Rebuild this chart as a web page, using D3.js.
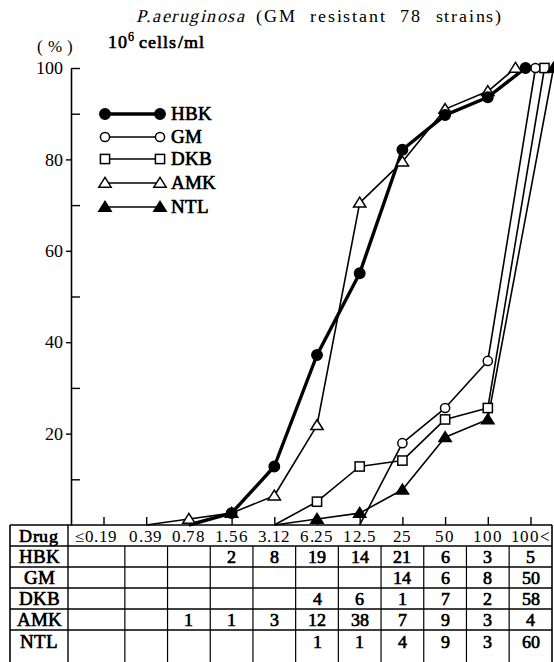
<!DOCTYPE html>
<html><head><meta charset="utf-8">
<script src="https://cdn.jsdelivr.net/npm/d3@7"></script>
<style>
@font-face { font-family: "ScanSerif"; src: local("Liberation Serif"), local("LiberationSerif"), local("Liberation Serif Regular"); }
body{margin:0;background:#fff} svg{display:block}
</style>
</head><body>
<svg id="c" width="554" height="662"></svg>
<script>
// ---------- data ----------
const categories = ["≤0.19","0.39","0.78","1.56","3.12","6.25","12.5","25","50","100","100<"];
const seriesNames = ["HBK","GM","DKB","AMK","NTL"];
// cumulative % of strains inhibited (null = not plotted)
const hbkValues = [null,null,0,2.6,12.8,37.2,55.1,82.1,89.7,93.6,100];
const gmValues  = [null,null,null,null,null,null,0,17.9,25.6,35.9,100];
const dkbValues = [null,null,null,null,0,5.1,12.8,14.1,23.1,25.6,100];
const amkValues = [null,0,1.3,2.6,6.4,21.8,70.5,79.5,91.0,94.9,100];
const ntlValues = [null,null,null,null,0,1.3,2.6,7.7,19.2,23.1,100];
// table counts
const hbkCounts = ["","","","2","8","19","14","21","6","3","5"];
const gmCounts  = ["","","","","","","","14","6","8","50"];
const dkbCounts = ["","","","","","4","6","1","7","2","58"];
const amkCounts = ["","","1","1","3","12","38","7","9","3","4"];
const ntlCounts = ["","","","","","1","1","4","9","3","60"];
const yMajorTicks = [20,40,60,80,100];
const yMinorTicks = [10,30,50,70,90];
const titleItalic = "P.aeruginosa";
const titleRest = "(GM resistant 78 strains)";

// ---------- styles ----------
const values = {HBK:hbkValues, GM:gmValues, DKB:dkbValues, AMK:amkValues, NTL:ntlValues};
const counts = {HBK:hbkCounts, GM:gmCounts, DKB:dkbCounts, AMK:amkCounts, NTL:ntlCounts};
const style = {
  HBK:{shape:"circle", fill:"#000", lw:3.4, lastDx:-5},
  GM: {shape:"circle", fill:"#fff", lw:1.6, lastDx:5},
  DKB:{shape:"square", fill:"#fff", lw:1.6, lastDx:14},
  AMK:{shape:"triangle", fill:"#fff", lw:1.6, lastDx:-15},
  NTL:{shape:"triangle", fill:"#000", lw:1.6, lastDx:23}
};
const SERIF = '"ScanSerif", "Liberation Serif"';

const svg = d3.select("#c");
const axX = 71, yTop = 68, yBot = 525;
const x = d3.scalePoint().domain(categories).range([103.5, 530.5]);
const y = d3.scaleLinear().domain([0,100]).range([yBot, yTop]);

// ---------- titles ----------
svg.append("text").attr("x",136).attr("y",22).attr("font-size",18).attr("font-style","italic")
  .attr("letter-spacing",1.5).text(titleItalic);
svg.append("text").attr("x",256).attr("y",22).attr("font-size",18)
  .attr("letter-spacing",1.8).attr("word-spacing",7).text(titleRest);
const cells = svg.append("text").attr("x",108).attr("y",48).attr("font-size",18).attr("font-weight","bold").attr("letter-spacing",1.2);
cells.append("tspan").text("10");
cells.append("tspan").attr("dy",-7).attr("font-size",12).text("6");
cells.append("tspan").attr("dy",7).attr("dx",3).text("cells/ml");
svg.append("text").attr("x",37).attr("y",52).attr("font-size",17)
  .attr("textLength",36).attr("lengthAdjust","spacing").text("(%)");

// ---------- y axis ----------
const gy = svg.append("g").attr("transform",`translate(${axX},0)`)
  .call(d3.axisLeft(y).tickValues(yMajorTicks).tickSizeInner(5).tickSizeOuter(0).tickPadding(3).tickFormat(d3.format("d")));
gy.select(".domain").attr("stroke-width",1.6);
gy.selectAll(".tick line").attr("stroke-width",1.4).filter(d=>d===100).remove();
gy.selectAll(".tick text").attr("font-size",18);
const gy2 = svg.append("g").attr("transform",`translate(${axX},0)`)
  .call(d3.axisRight(y).tickValues(yMinorTicks.concat([100])).tickSizeInner(9).tickSizeOuter(0).tickFormat(""));
gy2.select(".domain").remove();
gy2.selectAll(".tick line").attr("stroke-width",1.4);

// ---------- x ticks (upward) ----------
const gx = svg.append("g").attr("transform",`translate(0,${yBot})`)
  .call(d3.axisTop(x).tickSizeInner(8).tickSizeOuter(0).tickFormat(""));
gx.select(".domain").remove();
gx.selectAll(".tick line").attr("stroke-width",1.4);

// ---------- series ----------
function px(name, i){ const s=style[name]; return x(categories[i]) + (i===categories.length-1 ? s.lastDx : 0); }
const order = ["GM","DKB","NTL","AMK","HBK"];
order.forEach(name=>{
  const s = style[name];
  const pts = values[name].map((v,i)=>({v,i})).filter(d=>d.v!==null);
  const line = d3.line().x(d=>px(name,d.i)).y(d=>y(d.v));
  svg.append("path").datum(pts).attr("d",line).attr("fill","none")
    .attr("stroke","#000").attr("stroke-width",s.lw).attr("stroke-linejoin","round");
});
function marker(g, shape, fill, cx, cy, big){
  if(shape==="circle"){
    g.append("circle").attr("cx",cx).attr("cy",cy).attr("r", big?5.2:4.6)
      .attr("fill",fill).attr("stroke","#000").attr("stroke-width",1.5);
  } else if(shape==="square"){
    g.append("rect").attr("x",cx-4.6).attr("y",cy-4.6).attr("width",9.2).attr("height",9.2)
      .attr("fill",fill).attr("stroke","#000").attr("stroke-width",1.5);
  } else {
    const h=5.6;
    g.append("path").attr("d",`M${cx},${cy-h}L${cx+h*1.1},${cy+h*0.75}L${cx-h*1.1},${cy+h*0.75}Z`)
      .attr("fill",fill).attr("stroke","#000").attr("stroke-width",1.5).attr("stroke-linejoin","miter");
  }
}
const gm = svg.append("g");
order.forEach(name=>{
  const s = style[name];
  values[name].forEach((v,i)=>{
    if(v===null || v===0) return;
    marker(gm, s.shape, s.fill, px(name,i), y(v), name==="HBK");
  });
});

// ---------- legend ----------
const legY = [114,137,159,183,207];
const lg = svg.append("g");
seriesNames.forEach((name,k)=>{
  const s = style[name], yy = legY[k];
  lg.append("line").attr("x1",105).attr("x2",160).attr("y1",yy).attr("y2",yy)
    .attr("stroke","#000").attr("stroke-width",s.lw);
  marker(lg, s.shape, s.fill, 105, yy, name==="HBK");
  marker(lg, s.shape, s.fill, 160, yy, name==="HBK");
  lg.append("text").attr("x",171).attr("y",yy+6).attr("font-size",19).attr("font-weight","bold").text(name);
});

// ---------- table ----------
const tL = 10, tR = 552, drugR = 68, tBot = 662;
const rowEdges = [525, 546, 567, 588, 609, 630];
const rowCenters = [536, 557, 578, 599, 620, 642];
const step = x.step();
const colEdges = [drugR].concat(categories.slice(0,-1).map(c=>x(c)+step/2)).concat([tR]);
const tb = svg.append("g").attr("stroke","#000").attr("fill","none");
tb.append("line").attr("x1",tL).attr("x2",tR).attr("y1",rowEdges[0]).attr("y2",rowEdges[0]).attr("stroke-width",1.6);
[tL,tR].forEach(c=>tb.append("line").attr("x1",c).attr("x2",c).attr("y1",rowEdges[0]).attr("y2",tBot).attr("stroke-width",1.6));
rowEdges.slice(1).forEach(r=>tb.append("line").attr("x1",tL).attr("x2",tR).attr("y1",r).attr("y2",r).attr("stroke-width",1.4));
tb.append("line").attr("x1",drugR).attr("x2",drugR).attr("y1",rowEdges[0]).attr("y2",tBot).attr("stroke-width",1.4);
colEdges.slice(1,-1).forEach(c=>tb.append("line").attr("x1",c).attr("x2",c).attr("y1",rowEdges[1]).attr("y2",tBot).attr("stroke-width",1.2));
const tt = svg.append("g").attr("font-size",18).attr("font-weight","bold").attr("text-anchor","middle");
const colCenter = i => (colEdges[i]+colEdges[i+1])/2;
tt.append("text").attr("x",(tL+drugR)/2).attr("y",rowCenters[0]+6).attr("letter-spacing",0.8).text("Drug");
categories.forEach((c,i)=>tt.append("text").attr("x",colCenter(i)).attr("y",rowCenters[0]+6)
  .attr("font-weight","normal").attr("font-size",17).attr("letter-spacing",0.6).text(c));
seriesNames.forEach((name,k)=>{
  const cy = rowCenters[k+1]+6;
  tt.append("text").attr("x",(tL+drugR)/2).attr("y",cy).attr("font-size",19).text(name);
  counts[name].forEach((v,i)=>{ if(v) tt.append("text").attr("x",colCenter(i)).attr("y",cy).text(v); });
});

// serif typeface on every text element (single face -> bold/italic synthesized)
svg.selectAll("text").style("font-family", SERIF);
</script>
</body></html>
